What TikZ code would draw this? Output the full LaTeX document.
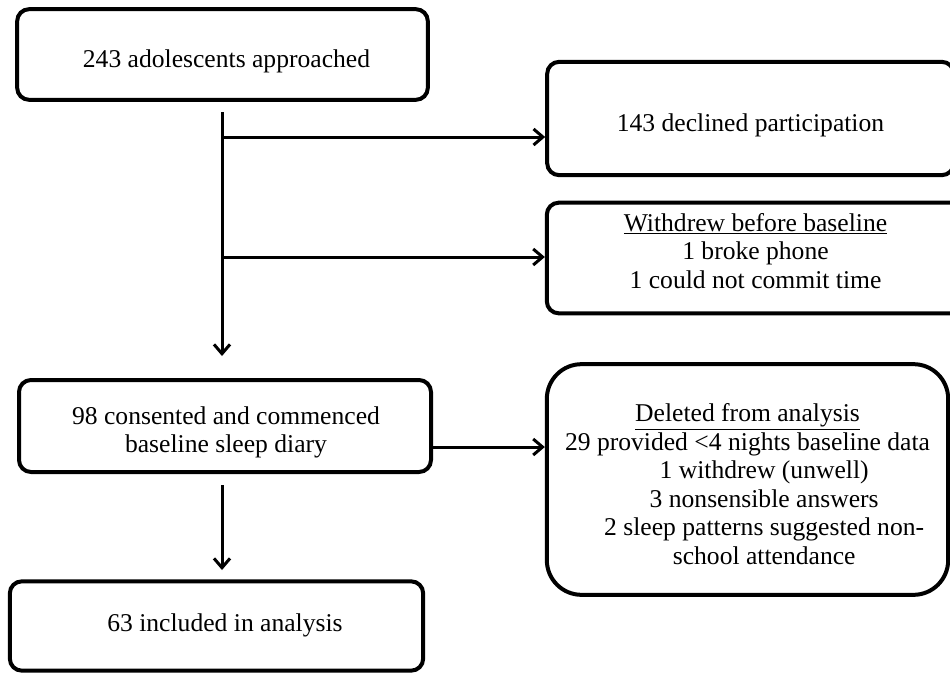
\documentclass[tikz,border=0pt]{standalone}
\usepackage{fontspec}
\setmainfont{Liberation Serif}
\usetikzlibrary{arrows.meta,calc}

\begin{document}
\begin{tikzpicture}[
    x=0.75pt, y=-0.75pt,
    every node/.style={font=\fontsize{19.2pt}{21.4pt}\selectfont},
    flowbox/.style={draw=black, line width=3pt, rounded corners=9pt, inner sep=0pt},
    bigbox/.style={flowbox, rounded corners=26pt},
    boxtext/.style={align=center, inner sep=0pt},
    flow/.style={draw=black, line width=2.25pt,
                 -{Straight Barb[length=7pt,width=12pt,line width=2.25pt]}}
]
\useasboundingbox (0,0) rectangle (950,675);
\clip (0,0) rectangle (950,675);

% boxes
\node[flowbox, minimum width=308pt, minimum height=68pt] (approached) at (222.5,54.5) {};
\node[flowbox, minimum width=305pt, minimum height=85pt] (declined) at (750.5,118.5) {};
\node[flowbox, minimum width=313pt, minimum height=83pt] (withdrew) at (755.5,258) {};
\node[flowbox, minimum width=309pt, minimum height=69pt] (consented) at (225,426) {};
\node[bigbox, minimum width=301pt, minimum height=173pt] (deleted) at (747.5,479.5) {};
\node[flowbox, minimum width=310pt, minimum height=67pt] (included) at (216.5,626) {};

% box texts
\node[boxtext] (approachedtxt) at ($(approached)+(4,7)$) {243 adolescents approached};
\node[boxtext] (declinedtxt) at ($(declined)+(0,7)$) {143 declined participation};
\node[boxtext] (withdrewtxt) at ($(withdrew)+(0,-7)$)
  {\underline{Withdrew before baseline}\\1 broke phone\\1 could not commit time};
\node[boxtext] (consentedtxt) at ($(consented)+(1,6.5)$)
  {98 consented and commenced\\baseline sleep diary};
\node[boxtext] (deletedtxt) at ($(deleted)+(0,4.5)$)
  {\underline{Deleted from analysis}\\
   29 provided <4 nights baseline data\\
   \hspace*{25pt}1 withdrew (unwell)\\
   \hspace*{25pt}3 nonsensible answers\\
   \hspace*{25pt}2 sleep patterns suggested non-\\
   \hspace*{25pt}school attendance};
\node[boxtext] (includedtxt) at ($(included)+(8.5,-1)$) {63 included in analysis};

% connector points on the main trunk
\coordinate (trunktop) at (222,112);
\coordinate (trunkend) at (222,356);
\coordinate (branchA) at (222,137);
\coordinate (branchB) at (222,257);
\coordinate (sideout) at (433,447);
\coordinate (lowtop) at (222,485);
\coordinate (lowend) at (222,570);

% connectors
\draw[flow] (trunktop) -- (trunkend);
\draw[flow] (branchA) -- (branchA -| declined.west);
\draw[flow] (branchB) -- (branchB -| withdrew.west);
\draw[flow] (sideout) -- (sideout -| deleted.west);
\draw[flow] (lowtop) -- (lowend);
\end{tikzpicture}
\end{document}
